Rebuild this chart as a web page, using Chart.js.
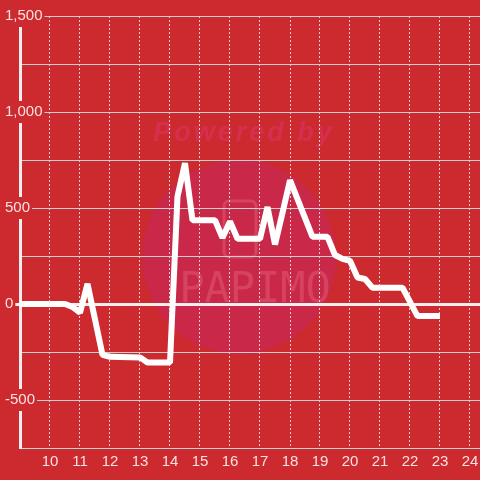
<!DOCTYPE html>
<html>
<head>
<meta charset="utf-8">
<script src="https://cdn.jsdelivr.net/npm/chart.js@4"></script>
<style>
html,body{margin:0;padding:0;background:#cc2a2e;}
#wrap{width:480px;height:480px;}
</style>
</head>
<body>
<div id="wrap"><canvas id="c" width="480" height="480"></canvas></div>
<script>
// Data (hours of day, values)
const times  = [8.75, 9, 10.5, 10.75, 11, 11.25, 11.75, 12, 13, 13.25, 14, 14.25, 14.5, 14.75, 15.5, 15.75, 16, 16.25, 17, 17.25, 17.5, 17.75, 18, 18.75, 19.25, 19.5, 19.75, 20, 20.25, 20.5, 20.75, 21.75, 22.25, 23];
const values = [0, 0, 0, -15, -45, 105, -265, -275, -278, -305, -305, 560, 734, 436, 436, 345, 430, 340, 340, 505, 310, 475, 645, 350, 350, 255, 235, 225, 138, 130, 85, 85, -63, -63];
const xTickValues = [9, 10, 11, 12, 13, 14, 15, 16, 17, 18, 19, 20, 21, 22, 23, 24];
const yLabelStep = 500;

const BG = '#cc2a2e';
const LABEL = 'rgba(255,240,240,0.92)';

const points = times.map((t, i) => ({x: t, y: values[i]}));

const bgPlugin = {
  id: 'bg',
  beforeDraw(chart) {
    const ctx = chart.ctx;
    ctx.save();
    ctx.fillStyle = BG;
    ctx.fillRect(0, 0, chart.width, chart.height);
    // watermark
    ctx.beginPath();
    ctx.arc(239, 257, 97, 0, Math.PI * 2);
    ctx.fillStyle = '#c92848';
    ctx.fill();
    ctx.font = 'bold italic 27px "Liberation Sans"';
    ctx.letterSpacing = '3px';
    ctx.fillStyle = 'rgba(218,50,92,0.7)';
    ctx.textAlign = 'center';
    ctx.textBaseline = 'middle';
    ctx.fillText('Powered by', 244, 134);
    ctx.letterSpacing = '0px';
    ctx.strokeStyle = 'rgba(240,120,140,0.35)';
    ctx.lineWidth = 3;
    ctx.beginPath();
    ctx.roundRect(224, 201, 32, 56, 5);
    ctx.stroke();
    ctx.font = '42px "DejaVu Sans Mono"';
    ctx.fillStyle = 'rgba(245,130,150,0.3)';
    ctx.fillText('PAPIMO', 255, 291);
    ctx.restore();
  }
};

new Chart(document.getElementById('c'), {
  type: 'line',
  data: {
    datasets: [{
      data: points,
      borderColor: '#ffffff',
      borderWidth: 6,
      borderJoinStyle: 'bevel',
      pointRadius: 0,
      tension: 0,
      fill: false
    }]
  },
  options: {
    responsive: false,
    animation: false,
    devicePixelRatio: 1,
    layout: {padding: {left: 5, top: 16, right: 0, bottom: 0}},
    plugins: {legend: {display: false}, tooltip: {enabled: false}},
    scales: {
      x: {
        type: 'linear',
        min: 9,
        max: 9 + 460 / 30,
        afterBuildTicks(scale) { scale.ticks = xTickValues.map(v => ({value: v})); },
        afterFit(scale) { scale.height = 32; scale.paddingLeft = 0; scale.paddingRight = 0; },
        grid: {
          color: ctx => (ctx.tick && ctx.tick.value === 9) ? 'rgba(0,0,0,0)' : 'rgba(240,225,225,0.9)',
          lineWidth: 1,
          drawTicks: false
        },
        border: {display: true, color: '#cfcfcf', width: 1, dash: [2, 2]},
        ticks: {
          color: LABEL,
          font: {family: '"Liberation Sans"', size: 15},
          padding: 5,
          maxRotation: 0,
          autoSkip: false,
          callback: v => v === 9 ? '' : String(v)
        }
      },
      y: {
        min: -750,
        max: 1500,
        afterBuildTicks(scale) {
          const t = [];
          for (let v = -750; v <= 1500; v += 250) t.push({value: v});
          scale.ticks = t;
        },
        afterFit(scale) { scale.width = 15; scale.paddingTop = 0; scale.paddingBottom = 0; },
        grid: {
          color: ctx => (ctx.tick && ctx.tick.value === 0) ? '#f2eeee' : '#cfcfcf',
          lineWidth: ctx => (ctx.tick && ctx.tick.value === 0) ? 3 : 1,
          tickLength: 15,
          tickColor: ctx => (ctx.tick && ctx.tick.value % yLabelStep === 0 && ctx.tick.value !== -750) ? (ctx.tick.value === 0 ? '#f2eeee' : '#cfcfcf') : 'rgba(0,0,0,0)'
        },
        border: {display: true, color: '#f2eeee', width: 3},
        ticks: {
          color: LABEL,
          font: {family: '"Liberation Sans"', size: 15},
          mirror: true,
          crossAlign: 'near',
          padding: -15,
          autoSkip: false,
          showLabelBackdrop: ctx => ctx.tick && ctx.tick.value % yLabelStep === 0 && ctx.tick.value !== -750,
          backdropColor: BG,
          backdropPadding: 2,
          callback: v => (v % yLabelStep === 0 && v !== -750) ? v.toLocaleString('en-US') : ''
        }
      }
    }
  },
  plugins: [bgPlugin]
});
</script>
</body>
</html>
